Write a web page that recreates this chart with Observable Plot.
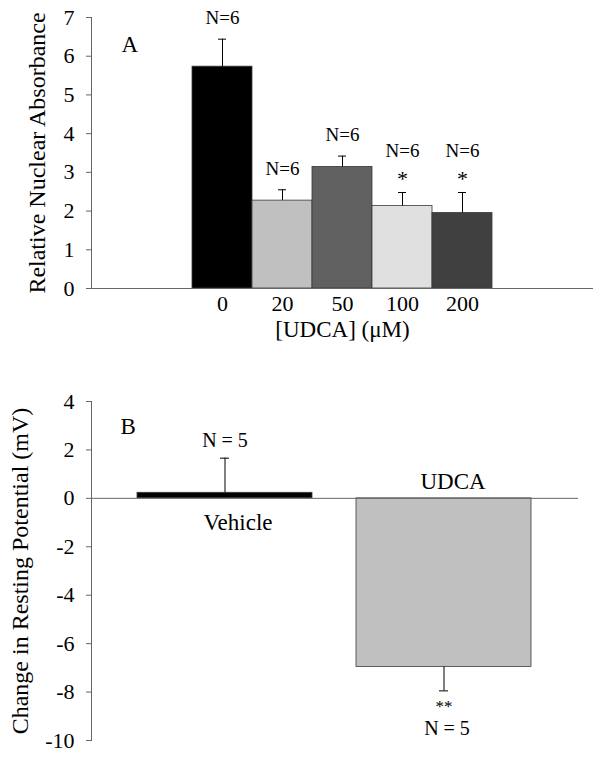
<!DOCTYPE html>
<html><head><meta charset="utf-8">
<script src="https://cdn.jsdelivr.net/npm/d3@7"></script>
<script src="https://cdn.jsdelivr.net/npm/@observablehq/plot@0.6"></script>
<style>body{margin:0;background:#fff;} svg{display:block;overflow:visible}</style>
</head><body><div id="chart"></div>
<script>
// Panel A data
const doses = ["0", "20", "50", "100", "200"];
const absorbanceMean = [5.73, 2.27, 3.14, 2.13, 1.95];
const absorbanceErrTop = [6.44, 2.55, 3.42, 2.48, 2.48];
const doseColors = ["#000000", "#c0c0c0", "#606060", "#e0e0e0", "#404040"];
const nLabelsA = ["N=6", "N=6", "N=6", "N=6", "N=6"];
const starsA = ["", "", "", "*", "*"];
const yTicksA = [0, 1, 2, 3, 4, 5, 6, 7];
const panelLabelA = "A";
const xTitleA = "[UDCA] (\u03bcM)";
const yTitleA = "Relative Nuclear Absorbance";

// Panel B data
const groups = ["Vehicle", "UDCA"];
const potentialMean = [0.23, -6.96];
const potentialErrEnd = [1.66, -7.95];
const groupColors = ["#000000", "#c0c0c0"];
const nLabelsB = ["N = 5", "N = 5"];
const starsB = ["", "**"];
const yTicksB = [-10, -8, -6, -4, -2, 0, 2, 4];
const panelLabelB = "B";
const yTitleB = "Change in Resting Potential (mV)";

const font = "'Liberation Serif','Times New Roman',serif";
const axisColor = "#666";
const plainFormat = d => String(d);

const dataA = doses.map((d, i) => ({dose: d, mean: absorbanceMean[i], top: absorbanceErrTop[i], color: doseColors[i], n: nLabelsA[i], star: starsA[i]}));
const dataB = groups.map((g, i) => ({group: g, mean: potentialMean[i], end: potentialErrEnd[i], color: groupColors[i], n: nLabelsB[i], star: starsB[i]}));

const plotA = Plot.plot({
  width: 602, height: 350,
  marginLeft: 91, marginRight: 9, marginTop: 17, marginBottom: 62,
  style: {fontFamily: font, background: "#fff", color: "#000", overflow: "visible"},
  x: {type: "band", domain: doses, paddingInner: 0, paddingOuter: 1.68},
  y: {domain: [0, 7]},
  marks: [
    Plot.barY(dataA, {x: "dose", y: "mean", fill: "color", stroke: "#3a3a3a", strokeWidth: 0.8}),
    Plot.ruleX(dataA, {x: "dose", y1: "mean", y2: "top", stroke: "#000", strokeWidth: 1}),
    Plot.tickY(dataA, {x: "dose", y: "top", insetLeft: 26, insetRight: 26, stroke: "#000", strokeWidth: 1}),
    Plot.ruleY([0], {stroke: axisColor, strokeWidth: 1}),
    Plot.frame({anchor: "left", stroke: axisColor, strokeWidth: 1}),
    Plot.axisY({ticks: yTicksA, tickFormat: plainFormat, tickSize: 5, tickPadding: 12, fontSize: 22, stroke: axisColor, label: null}),
    Plot.text([yTitleA], {frameAnchor: "left", dx: -54, rotate: -90, textAnchor: "middle", lineAnchor: "middle", fontSize: 24}),
    Plot.axisX({tickSize: 0, tickPadding: 7, fontSize: 22, label: null}),
    Plot.text(dataA.filter(d => d.star === ""), {x: "dose", y: "top", text: "n", dy: -21, fontSize: 19}),
    Plot.text(dataA.filter(d => d.star !== ""), {x: "dose", y: "top", text: "n", dy: -41.5, fontSize: 19}),
    Plot.text(dataA.filter(d => d.star !== ""), {x: "dose", y: "top", text: "star", dy: -14, fontSize: 22}),
    Plot.text([panelLabelA], {frameAnchor: "top-left", dx: 30, dy: 18, fontSize: 23}),
    Plot.text([xTitleA], {frameAnchor: "bottom", dy: 48, fontSize: 23})
  ]
});

const plotB = Plot.plot({
  width: 602, height: 408,
  marginLeft: 91, marginRight: 24, marginTop: 51, marginBottom: 18,
  style: {fontFamily: font, background: "#fff", color: "#000", overflow: "visible"},
  x: {type: "band", domain: groups, paddingInner: 0.2, paddingOuter: 0.207, axis: null},
  y: {domain: [-10, 4]},
  marks: [
    Plot.barY(dataB, {x: "group", y: "mean", fill: "color", stroke: "#3a3a3a", strokeWidth: 0.8}),
    Plot.ruleX(dataB, {x: "group", y1: "mean", y2: "end", stroke: "#000", strokeWidth: 1}),
    Plot.tickY(dataB, {x: "group", y: "end", insetLeft: 83, insetRight: 83, stroke: "#000", strokeWidth: 1}),
    Plot.ruleY([0], {stroke: axisColor, strokeWidth: 1}),
    Plot.frame({anchor: "left", stroke: axisColor, strokeWidth: 1}),
    Plot.axisY({ticks: yTicksB, tickFormat: plainFormat, tickSize: 5, tickPadding: 12, fontSize: 22, stroke: axisColor, label: null}),
    Plot.text([yTitleB], {frameAnchor: "left", dx: -71, rotate: -90, textAnchor: "middle", lineAnchor: "middle", fontSize: 24}),
    Plot.text(dataB.filter(d => d.mean >= 0), {x: "group", y: "end", text: "n", dy: -18, fontSize: 20}),
    Plot.text(dataB.filter(d => d.mean < 0), {x: "group", y: "end", text: "n", dy: 38, dx: 3, fontSize: 20}),
    Plot.text(dataB.filter(d => d.mean < 0), {x: "group", y: "end", text: "star", dy: 16, fontSize: 17}),
    Plot.text(dataB.filter(d => d.mean >= 0), {x: "group", y: () => 0, text: "group", dy: 24, dx: 13, fontSize: 23}),
    Plot.text(dataB.filter(d => d.mean < 0), {x: "group", y: () => 0, text: "group", dy: -17, dx: 9, fontSize: 23}),
    Plot.text([panelLabelB], {frameAnchor: "top-left", dx: 29, dy: 16.5, fontSize: 23})
  ]
});

const root = document.getElementById("chart");
root.appendChild(plotA);
root.appendChild(plotB);
</script>
</body></html>
